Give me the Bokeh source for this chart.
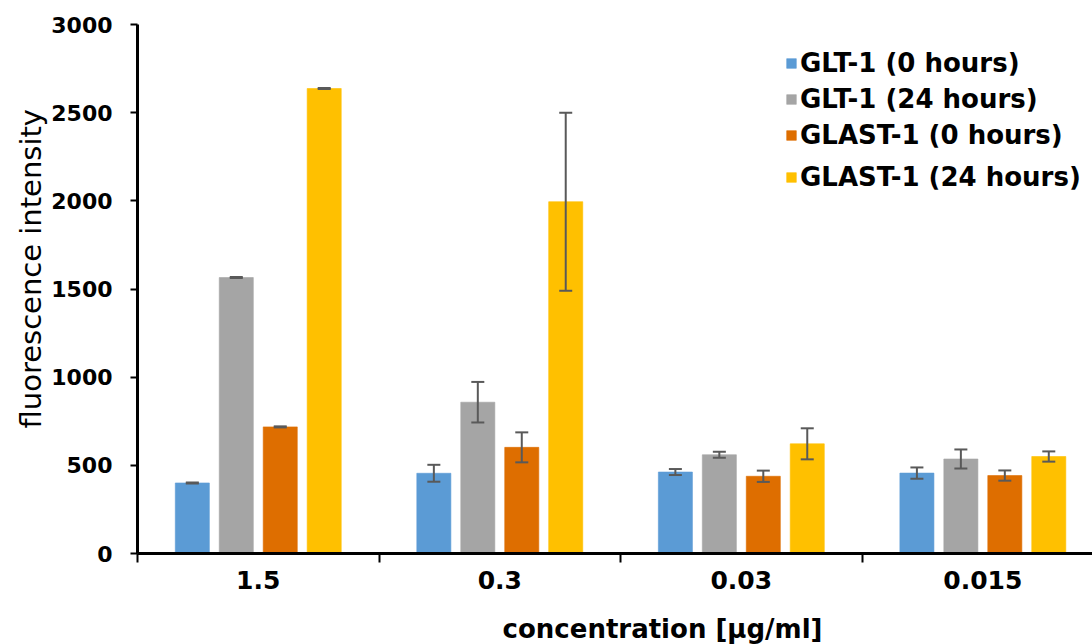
from bokeh.plotting import figure
from bokeh.layouts import column
from bokeh.models import (ColumnDataSource, Range1d, FixedTicker, Whisker,
                          TeeHead, Legend, LegendItem, Title)
from bokeh.core.properties import value
from bokeh.embed import file_html
from bokeh.resources import INLINE

# Concentrations (µg/ml) on the category axis
concentrations = ["1.5", "0.3", "0.03", "0.015"]

# Series names and colours
series_names = ["GLT-1 (0 hours)", "GLT-1 (24 hours)",
                "GLAST-1 (0 hours)", "GLAST-1 (24 hours)"]
series_colors = ["#5B9BD5", "#A5A5A5", "#DE6E00", "#FFC000"]

# Mean fluorescence intensity per concentration
glt1_0h = [400, 455, 462, 456]
glt1_24h = [1565, 858, 560, 536]
glast1_0h = [718, 602, 438, 442]
glast1_24h = [2637, 1995, 622, 550]

# Error (± SD) per concentration
glt1_0h_err = [3, 48, 17, 32]
glt1_24h_err = [3, 115, 17, 54]
glast1_0h_err = [3, 85, 32, 29]
glast1_24h_err = [3, 505, 88, 29]

y_ticks = [0, 500, 1000, 1500, 2000, 2500, 3000]

x_title = "concentration [µg/ml]"
y_title = "fluorescence intensity"

means = [glt1_0h, glt1_24h, glast1_0h, glast1_24h]
errors = [glt1_0h_err, glt1_24h_err, glast1_0h_err, glast1_24h_err]

FONT = "DejaVu Sans"

p = figure(width=1092, height=604, output_backend="svg", toolbar_location=None,
           x_range=Range1d(0, 3.954), y_range=Range1d(0, 3000),
           min_border_left=137, min_border_right=0,
           min_border_top=24, min_border_bottom=51)
p.outline_line_color = None
p.background_fill_color = "white"
p.border_fill_color = "white"
p.xgrid.visible = False
p.ygrid.visible = False

offsets = [-0.273, -0.091, 0.091, 0.273]
bar_width = 0.141
centers = [i + 0.5 for i in range(len(concentrations))]

renderers = []
for k in range(4):
    xs = [c + offsets[k] for c in centers]
    src = ColumnDataSource(dict(
        x=xs, top=means[k],
        upper=[m + e for m, e in zip(means[k], errors[k])],
        lower=[m - e for m, e in zip(means[k], errors[k])],
    ))
    r = p.vbar(x="x", top="top", bottom=0, width=bar_width, source=src,
               fill_color=series_colors[k], line_color=series_colors[k],
               line_alpha=0.6, line_width=1)
    renderers.append(r)
    w = Whisker(base="x", upper="upper", lower="lower", source=src,
                level="overlay",
                line_color="#595959", line_width=2,
                upper_head=TeeHead(size=13, line_color="#595959", line_width=2),
                lower_head=TeeHead(size=13, line_color="#595959", line_width=2))
    p.add_layout(w)

# x axis: labels at category centres, short tick marks at category boundaries
xa = p.xaxis[0]
xa.ticker = FixedTicker(ticks=centers, minor_ticks=[0, 1, 2, 3])
xa.major_label_overrides = {c: lab for c, lab in zip(centers, concentrations)}
xa.major_tick_out = 0
xa.major_tick_in = 0
xa.minor_tick_out = 9
xa.minor_tick_in = 0
xa.minor_tick_line_color = "black"
xa.minor_tick_line_width = 2
xa.axis_line_color = "black"
xa.axis_line_width = 3
xa.major_label_text_font = FONT
xa.major_label_text_font_style = "bold"
xa.major_label_text_font_size = "25px"
xa.major_label_text_color = "black"
xa.major_label_standoff = 8

ya = p.yaxis[0]
ya.ticker = FixedTicker(ticks=y_ticks, minor_ticks=[])
ya.major_tick_out = 7
ya.major_tick_in = 0
ya.major_tick_line_width = 2
ya.major_tick_line_color = "black"
ya.axis_line_width = 3
ya.axis_line_color = "black"
ya.major_label_text_font = FONT
ya.major_label_text_font_style = "bold"
ya.major_label_text_font_size = "22px"
ya.major_label_text_color = "black"
ya.major_label_standoff = 18

# y-axis title, shifted along the left panel
p.add_layout(Title(text=y_title, align="left", offset=125,
                   text_font=FONT, text_font_style="normal",
                   text_font_size="29px", text_color="black",
                   standoff=1), "left")

# Legend rows, each placed on its own in the top right corner
row_centers = [63, 99, 135, 177]
row_h = 32
for name, r, cy in zip(series_names, renderers, row_centers):
    lg = Legend(items=[LegendItem(label=name, renderers=[r])],
                location=(648, 553 - cy - row_h / 2),
                padding=0, margin=0, spacing=0,
                border_line_color=None, background_fill_alpha=0,
                glyph_width=12, glyph_height=12, label_height=row_h,
                label_standoff=3,
                label_text_font=FONT, label_text_font_style="bold",
                label_text_font_size="26px", label_text_color="black")
    p.add_layout(lg)

# Strip under the chart carrying the x-axis title; its frame lines up with
# the chart frame, so the x range is given in page pixels
strip = figure(width=1092, height=40, output_backend="svg",
               toolbar_location=None, x_axis_type=None, y_axis_type=None,
               x_range=Range1d(137, 1092), y_range=Range1d(0, 40),
               min_border=0)
strip.outline_line_color = None
strip.background_fill_color = "white"
strip.border_fill_color = "white"
strip.grid.visible = False
strip.text(x=[662], y=[16], text=[x_title], text_align="center",
           text_baseline="middle", text_font=value(FONT),
           text_font_style="bold", text_font_size="26px", text_color="black")

layout = column(p, strip, spacing=0)
open("out.html", "w").write(file_html(layout, INLINE))
